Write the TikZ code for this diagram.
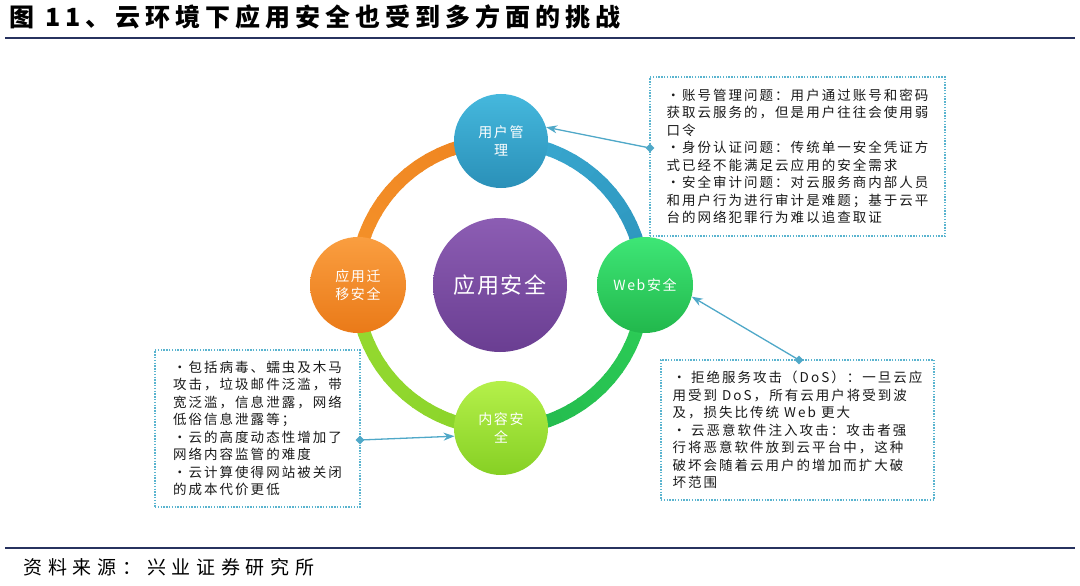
\documentclass[tikz,border=0pt]{standalone}
\usepackage{fontspec}
\setmainfont{Noto Sans CJK SC}
\usetikzlibrary{arrows.meta,shapes.geometric}
\definecolor{navy}{HTML}{27325F}
\definecolor{boxc}{HTML}{5AB4CF}
\definecolor{arrc}{HTML}{4FA8C8}
\definecolor{ringBa}{HTML}{3AAAD2}
\definecolor{ringBb}{HTML}{2C94BC}
\definecolor{ringGa}{HTML}{2ECF58}
\definecolor{ringGb}{HTML}{22B84C}
\definecolor{ringLa}{HTML}{8AD42A}
\definecolor{ringLb}{HTML}{96DA30}
\definecolor{ringOa}{HTML}{EE8420}
\definecolor{ringOb}{HTML}{F5922A}
\definecolor{userT}{HTML}{45B8DD}
\definecolor{userB}{HTML}{2A90B8}
\definecolor{webT}{HTML}{3EE676}
\definecolor{webB}{HTML}{22B84C}
\definecolor{contT}{HTML}{B5F04A}
\definecolor{contB}{HTML}{86D024}
\definecolor{migT}{HTML}{FA9E40}
\definecolor{migB}{HTML}{EA7A18}
\definecolor{cenT}{HTML}{8C5DB3}
\definecolor{cenB}{HTML}{6A3E92}
\definecolor{txt}{HTML}{1A1A1A}
\tikzset{
  circ/.style={circle, draw=none, text=white, align=center, inner sep=0pt,
    font=\fontsize{14}{18}\selectfont\addfontfeature{LetterSpace=12}},
  infobox/.style={draw=boxc, line width=1.4pt, dash pattern=on 1.4pt off 1.4pt,
    align=left, text=txt, inner sep=0pt,
    font=\fontsize{13.5}{17.5}\selectfont\addfontfeature{LetterSpace=15}},
  diam/.style={diamond, fill=arrc, draw=none, minimum size=9pt, inner sep=0pt},
  conn/.style={draw=arrc, line width=1.3pt, -{Stealth[length=11pt,width=8pt]}},
  rule/.style={draw=navy, line width=2.5pt}
}
\begin{document}
\begin{tikzpicture}[x=1pt,y=-1pt]
\useasboundingbox[fill=white] (0,0) rectangle (1080,586);
% title and rules
\node[anchor=west, text=black, font=\fontsize{25}{25}\selectfont\bfseries\addfontfeature{LetterSpace=20}] (title) at (6,17) {图 11、云环境下应用安全也受到多方面的挑战};
\coordinate (r1a) at (5,38); \coordinate (r1b) at (1075,38);
\coordinate (r2a) at (5,548); \coordinate (r2b) at (1075,548);
\draw[rule] (r1a) -- (r1b);
\draw[rule] (r2a) -- (r2b);
\node[anchor=west, text=black, font=\fontsize{19}{19}\selectfont\addfontfeature{LetterSpace=30}] (src) at (20,567) {资料来源：兴业证券研究所};
% ring
\coordinate (c) at (500,285);
\foreach \a/\ca/\cb in {-90/ringBa/ringBb, 0/ringGa/ringGb, 90/ringLa/ringLb, 180/ringOb/ringOa} {
  \foreach \k in {0,...,17} {
    \pgfmathsetmacro\sa{\a+\k*5}
    \pgfmathsetmacro\ea{\a+\k*5+5.8}
    \pgfmathtruncatemacro\p{100-\k*100/17}
    \draw[line width=13pt, \ca!\p!\cb] ([shift={(\sa:144)}]c) arc[start angle=\sa, end angle=\ea, radius=144];
  }
}
% circles
\node[circ, minimum size=134pt, top color=cenT, bottom color=cenB, font=\fontsize{22}{24}\selectfont\addfontfeature{LetterSpace=8}] (center) at (500,285) {应用安全};
\node[circ, minimum size=94pt, top color=userT, bottom color=userB] (user) at (501,141) {用户管\\理};
\node[circ, minimum size=96pt, top color=webT, bottom color=webB] (web) at (645,285) {Web安全};
\node[circ, minimum size=94pt, top color=contT, bottom color=contB] (cont) at (501,428) {内容安\\全};
\node[circ, minimum size=96pt, top color=migT, bottom color=migB] (mig) at (358,285) {应用迁\\移安全};
% boxes
\node[infobox, minimum width=295pt, minimum height=159pt] (b1) at (797.5,156.5) {%
•账号管理问题：用户通过账号和密码\\
获取云服务的，但是用户往往会使用弱\\
口令\\
•身份认证问题：传统单一安全凭证方\\
式已经不能满足云应用的安全需求\\
•安全审计问题：对云服务商内部人员\\
和用户行为进行审计是难题；基于云平\\
台的网络犯罪行为难以追查取证};
\node[infobox, minimum width=273pt, minimum height=140pt] (b2) at (797.5,430) {%
• 拒绝服务攻击（DoS）：一旦云应\\
用受到 DoS，所有云用户将受到波\\
及，损失比传统 Web 更大\\
• 云恶意软件注入攻击：攻击者强\\
行将恶意软件放到云平台中，这种\\
破坏会随着云用户的增加而扩大破\\
坏范围};
\node[infobox, minimum width=205pt, minimum height=157pt] (b3) at (257.5,428.5) {%
•包括病毒、蠕虫及木马\\
攻击，垃圾邮件泛滥，带\\
宽泛滥，信息泄露，网络\\
低俗信息泄露等；\\
•云的高度动态性增加了\\
网络内容监管的难度\\
•云计算使得网站被关闭\\
的成本代价更低};
% connectors
\node[diam] (d1) at (650,148) {};
\node[diam] (d2) at (799,360) {};
\node[diam] (d3) at (360,440) {};
\draw[conn] (d1.center) -- (user.17);
\draw[conn] (d2.center) -- (web.-14);
\draw[conn] (d3.center) -- (cont.190);
\end{tikzpicture}
\end{document}
